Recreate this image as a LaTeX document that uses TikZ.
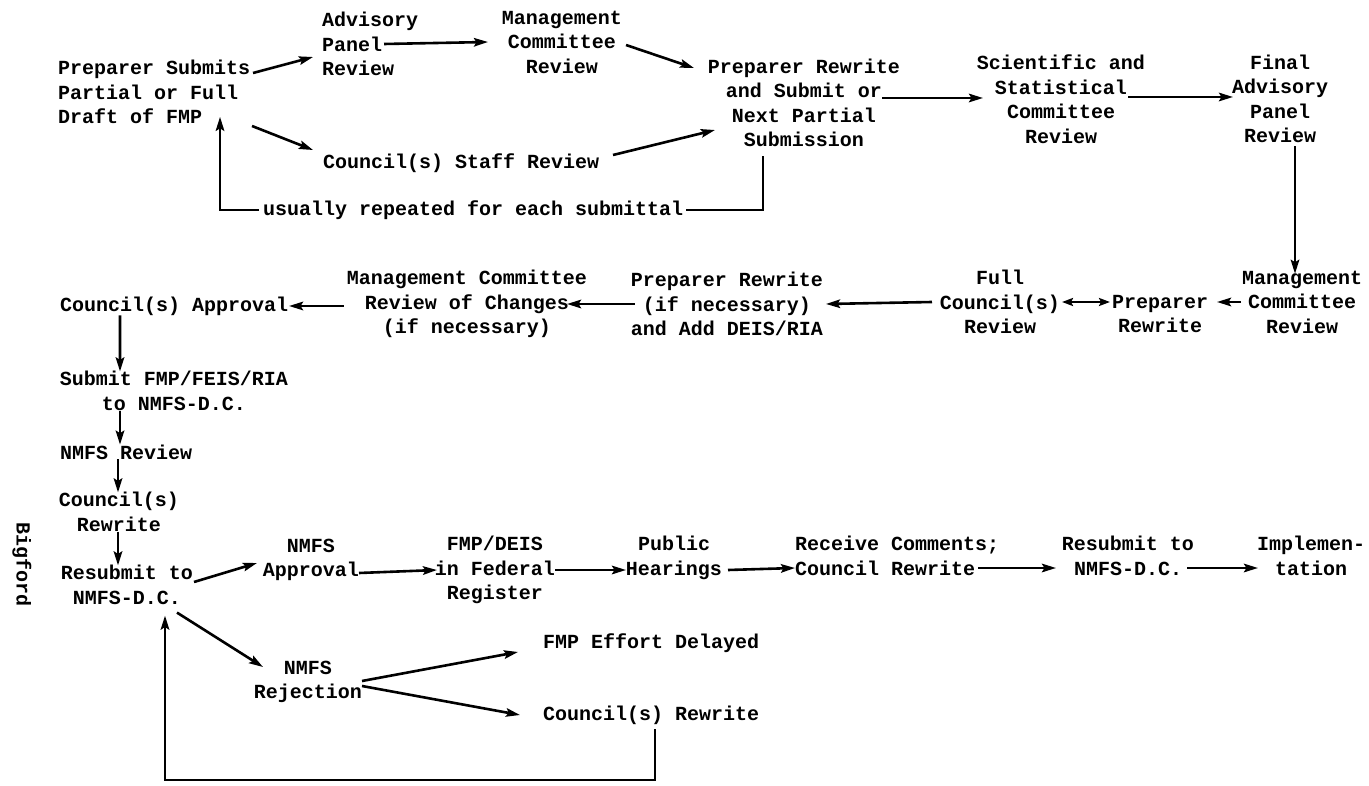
\documentclass[tikz,border=0pt]{standalone}
\usepackage{fontspec}
\setmainfont{Liberation Mono}
\usetikzlibrary{arrows.meta}
\begin{document}
\begin{tikzpicture}[x=1pt,y=-1pt,
  every node/.style={inner sep=0pt, outer sep=0pt},
  txt/.style={font=\fontsize{20}{24.5}\selectfont\bfseries, align=center},
  txtl/.style={font=\fontsize{20}{24.5}\selectfont\bfseries, align=left},
  conn/.style={line width=2.6pt},
  arr/.style={conn, -{Stealth[length=14pt,width=8.5pt,inset=2.5pt]}},
  darr/.style={conn, {Stealth[length=11pt,width=8pt,inset=2pt]}-{Stealth[length=11pt,width=8pt,inset=2pt]}}]
\useasboundingbox (0,0) rectangle (1369,786);
\fill[white] (0,0) rectangle (1369,786);

% --- top row ---
\node[txtl, anchor=west] (ps) at (58,92) {Preparer Submits\\Partial or Full\\Draft of FMP};
\node[txtl, anchor=west] (apr) at (322,44) {Advisory\\Panel\\Review};
\node[txt] (mcr) at (562,42) {Management\\Committee\\Review};
\node[txtl, anchor=west] (staff) at (323,163) {Council(s) Staff Review};
\node[txt] (prw) at (804,103) {Preparer Rewrite\\and Submit or\\Next Partial\\Submission};
\node[txt] (ssc) at (1061,99) {Scientific and\\Statistical\\Committee\\Review};
\node[txt] (fap) at (1280,99) {Final\\Advisory\\Panel\\Review};
\node[txtl, anchor=west] (rep) at (263,210) {usually repeated for each submittal};

% --- middle row ---
\node[txt] (mcr2) at (1302,302) {Management\\Committee\\Review};
\node[txt] (pr2) at (1160,314) {Preparer\\Rewrite};
\node[txt] (fcr) at (1000,302) {Full\\Council(s)\\Review};
\node[txt] (prn) at (727,304) {Preparer Rewrite\\(if necessary)\\and Add DEIS/RIA};
\node[txt] (mcc) at (467,304) {Management Committee\\Review of Changes\\(if necessary)};
\node[txtl, anchor=west] (ca) at (60,306) {Council(s) Approval};

% --- left column ---
\node[txt] (sub) at (174,391) {Submit FMP/FEIS/RIA\\to NMFS-D.C.};
\node[txtl, anchor=west] (nr) at (60,452) {NMFS Review};
\node[txt] (cr) at (119,512) {Council(s)\\Rewrite};
\node[txt] (rs) at (127,585) {Resubmit to\\NMFS-D.C.};

% --- bottom row ---
\node[txt] (na) at (311,560) {NMFS\\Approval};
\node[txt] (fed) at (495,570) {FMP/DEIS\\in Federal\\Register};
\node[txt] (ph) at (674,558) {Public\\Hearings};
\node[txtl, anchor=west] (rc) at (795,556) {Receive Comments;\\Council Rewrite};
\node[txt] (rs2) at (1128,556) {Resubmit to\\NMFS-D.C.};
\node[txt] (imp) at (1311,556) {Implemen-\\tation};
\node[txt] (nrj) at (308,682) {NMFS\\Rejection};
\node[txtl, anchor=west] (fed2) at (543,643) {FMP Effort Delayed};
\node[txtl, anchor=west] (cr2) at (543,715) {Council(s) Rewrite};

\node[txt, rotate=-90] (big) at (22,565) {Bigford};

% --- connectors top ---
\draw[arr] ([shift={(3,-19)}]ps.east) -- ([shift={(-9,13)}]apr.west);
\draw[arr] ([shift={(2,34)}]ps.east) -- ([shift={(-10,-13)}]staff.west);
\draw[arr] ([shift={(-34,0)}]apr.east) -- ([shift={(-14,0)}]mcr.west);
\draw[arr] ([shift={(4,3)}]mcr.east) -- ([shift={(-14,-35)}]prw.west);
\draw[arr] ([shift={(14,-8)}]staff.east) -- ([shift={(7,27)}]prw.west);
\draw[arr] ([shift={(-18,-5)}]prw.east) -- ([shift={(6,-1)}]ssc.west);
\draw[arr] ([shift={(-17,-2)}]ssc.east) -- ([shift={(1,-2)}]fap.west);
\draw[conn] ([shift={(-41,9)}]prw.south) |- ([xshift=3]rep.east);
\draw[arr] ([xshift=-4]rep.west) -| ([shift={(66,-7)}]ps.south);
\draw[arr] ([shift={(15,3)}]fap.south) -- ([shift={(15,3)}]fap.south |- mcr2.north);

% --- connectors middle ---
\draw[arr] ([xshift=-1]mcr2.west) -- ([shift={(9,-12)}]pr2.east);
\draw[darr] ([xshift=-2]pr2.west |- fcr.east) -- ([xshift=2]fcr.east);
\draw[arr] ([xshift=-8]fcr.west) -- ([xshift=3]prn.east);
\draw[arr] ([xshift=4]prn.west) -- ([xshift=-20]mcc.east);
\draw[arr] ([shift={(-3,2)}]mcc.west) -- ([xshift=1]ca.east);

% --- connectors left column ---
\draw[arr] ([xshift=-54]ca.south) -- ([xshift=-54]sub.north);
\draw[arr] ([xshift=-54]sub.south) -- ([xshift=-54]sub.south |- nr.north);
\draw[arr] ([xshift=-8]nr.south) -- ([xshift=-8]nr.south |- cr.north);
\draw[arr] ([xshift=-1]cr.south) -- ([xshift=-1]cr.south |- rs.north);

% --- connectors bottom ---
\draw[arr] ([shift={(1,-3)}]rs.east) -- ([shift={(-6,3)}]na.west);
\draw[arr] ([shift={(50,8)}]rs.south) -- ([shift={(9,-15)}]nrj.west);
\draw[arr] ([shift={(0,13)}]na.east) -- ([shift={(2,0)}]fed.west);
\draw[arr] (fed.east) -- ([shift={(0,12)}]ph.west);
\draw[arr] ([shift={(6,12)}]ph.east) -- ([shift={(0,12)}]rc.west);
\draw[arr] ([shift={(-21,12)}]rc.east) -- ([shift={(-6,12)}]rs2.west);
\draw[arr] ([shift={(-7,12)}]rs2.east) -- ([shift={(1,12)}]imp.west);
\draw[arr] ([shift={(0,-1)}]nrj.east) -- ([shift={(-25,9)}]fed2.west);
\draw[arr] ([shift={(0,4)}]nrj.east) -- ([shift={(-23,0)}]cr2.west);
\coordinate (loopB) at (165,780);
\draw[arr] ([shift={(4,5)}]cr2.south) |- (loopB) -- ([shift={(38,11)}]rs.south);
\end{tikzpicture}
\end{document}
